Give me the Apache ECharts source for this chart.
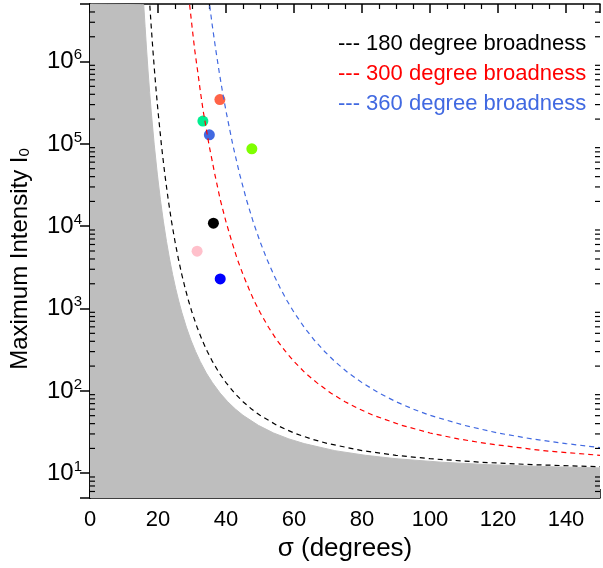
<!DOCTYPE html>
<html>
<head>
<meta charset="utf-8">
<script src="https://cdn.jsdelivr.net/npm/echarts@6/dist/echarts.min.js"></script>
<style>
html,body{margin:0;padding:0;background:#fff;}
#chart{width:603px;height:568px;}
</style>
</head>
<body>
<div id="chart"></div>
<script>
// ---- data ----
const greySigma = [0, 15.8, 16.2, 16.65, 17.1, 17.55, 18, 18.9, 19.8, 20.7, 21.6, 22.5, 23.4, 24.3, 25.2, 26.1, 27, 28.35, 29.7, 31.05, 32.4, 34.2, 36, 38.25, 40.5, 42.75, 45, 49.5, 54, 58.5, 63, 72, 81, 90, 103.5, 117, 135, 150];
const greyI     = [5e6, 4.9e6, 2.68e6, 1.38e6, 7.46e5, 4.22e5, 2.5e5, 9.74e4, 4.3e4, 2.11e4, 1.13e4, 6520, 4000, 2590, 1753, 1234, 900, 592, 412, 301, 228, 165, 126, 94.1, 73.9, 60.2, 50.5, 38.2, 30.8, 26.1, 22.9, 18.8, 16.5, 15.0, 13.6, 12.7, 12.0, 11.6];

const blackSigma = [17.6, 18, 18.5, 19, 19.5, 20, 21, 22, 23, 24, 25, 26, 27, 28, 29, 30, 31.5, 33, 34.5, 36, 38, 40, 42.5, 45, 47.5, 50, 55, 60, 65, 70, 80, 90, 100, 115, 130, 150];
const blackI     = [4.78e6, 2.68e6, 1.38e6, 7.46e5, 4.22e5, 2.5e5, 9.74e4, 4.3e4, 2.11e4, 1.13e4, 6520, 4000, 2590, 1753, 1234, 900, 592, 412, 301, 228, 165, 126, 94.1, 73.9, 60.2, 50.5, 38.2, 30.8, 26.1, 22.9, 18.8, 16.5, 15.0, 13.6, 12.7, 12.0];

const redSigma = [29.3, 30, 30.8, 31.7, 32.5, 33.3, 35, 36.7, 38.3, 40, 41.7, 43.3, 45, 46.7, 48.3, 50, 52.5, 55, 57.5, 60, 63.3, 66.7, 70.8, 75, 79.2, 83.3, 91.7, 100, 108.3, 116.7, 133.3, 150];
const redI     = [4.9e6, 2.68e6, 1.38e6, 7.46e5, 4.22e5, 2.5e5, 9.74e4, 4.3e4, 2.11e4, 1.13e4, 6520, 4000, 2590, 1753, 1234, 900, 592, 412, 301, 228, 165, 126, 94.1, 73.9, 60.2, 50.5, 38.2, 30.8, 26.1, 22.9, 18.8, 16.5];

const blueSigma = [35.2, 36, 37, 38, 39, 40, 42, 44, 46, 48, 50, 52, 54, 56, 58, 60, 63, 66, 69, 72, 76, 80, 85, 90, 95, 100, 110, 120, 130, 140, 150];
const blueI     = [4.78e6, 2.68e6, 1.38e6, 7.46e5, 4.22e5, 2.5e5, 9.74e4, 4.3e4, 2.11e4, 1.13e4, 6520, 4000, 2590, 1753, 1234, 900, 592, 412, 301, 228, 165, 126, 94.1, 73.9, 60.2, 50.5, 38.2, 30.8, 26.1, 22.9, 20.5];

const ptSigma  = [38.2, 33.2, 35.1, 47.6, 36.3, 31.5, 38.3];
const ptI      = [3.45e5, 1.89e5, 1.29e5, 8.7e4, 1.09e4, 4970, 2290];
const ptColors = ['#FF6347', '#00EE90', '#4169E1', '#7FFF00', '#000000', '#FFC0CB', '#0000FF'];

const legendLabels = ['--- 180 degree broadness', '--- 300 degree broadness', '--- 360 degree broadness'];
const legendColors = ['#000000', '#FF0000', '#4169E1'];

const xTicks = [0, 20, 40, 60, 80, 100, 120, 140];
const yDecades = [1, 2, 3, 4, 5, 6];
// -------------------------------------

const zip = (a, b) => a.map((v, i) => [v, b[i]]);

const yMin = 5, yMax = 5e6;
const minorY = [];
for (let e = 0; e <= 6; e++) for (let m = 2; m <= 9; m++) { const v = m * Math.pow(10, e); if (v > yMin && v < yMax) minorY.push(v); }

const FONT = 'Liberation Sans, Arial, Helvetica, sans-serif';
const chart = echarts.init(document.getElementById('chart'));

function isDecade(v) { const l = Math.log10(v); return Math.abs(l - Math.round(l)) < 1e-6; }

const commonX = {
  type: 'value', min: 0, max: 150, interval: 20,
  axisLine: { show: true, lineStyle: { color: '#000', width: 1.5 } },
  axisTick: { show: true, inside: true, length: 9, lineStyle: { color: '#000', width: 1.5 } },
  minorTick: { show: true, splitNumber: 4, length: 5, lineStyle: { color: '#000', width: 1.2 } },
  splitLine: { show: false }
};
const commonY = {
  type: 'log', min: yMin, max: yMax, logBase: 10,
  axisLine: { show: true, lineStyle: { color: '#000', width: 1.5 } },
  axisTick: { show: true, inside: true, length: 10, lineStyle: { color: '#000', width: 1.5 } },
  minorTick: { show: false },
  splitLine: { show: false }
};

const dashed = (color) => ({ color: color, width: 1.2, type: [5, 4] });

chart.setOption({
  animation: false,
  backgroundColor: '#fff',
  grid: { left: 90, top: 4, width: 516, height: 494, containLabel: false },
  xAxis: [
    Object.assign({}, commonX, {
      position: 'bottom',
      name: 'σ (degrees)', nameLocation: 'middle', nameGap: 38,
      nameTextStyle: { fontFamily: FONT, fontSize: 26, color: '#000' },
      axisLabel: { show: true, margin: 11, fontFamily: FONT, fontSize: 22, color: '#000',
        formatter: v => (xTicks.indexOf(v) >= 0 ? String(v) : '') }
    }),
    Object.assign({}, commonX, { position: 'top', axisLabel: { show: false } })
  ],
  yAxis: [
    Object.assign({}, commonY, {
      position: 'left',
      name: '{a|Maximum Intensity I}{s|0}', nameLocation: 'middle', nameGap: 58, nameRotate: 90,
      nameTextStyle: { fontFamily: FONT, color: '#000', padding: [0, 16, 0, 0],
        rich: { a: { fontFamily: FONT, fontSize: 24, color: '#000' },
                s: { fontFamily: FONT, fontSize: 15, color: '#000', padding: [9, 0, 0, 0] } } },
      axisLabel: {
        show: true, margin: 8, showMinLabel: false, showMaxLabel: false,
        formatter: v => { if (!isDecade(v)) return ''; const e = Math.round(Math.log10(v)); return yDecades.indexOf(e) >= 0 ? '{b|10}{s|' + e + '}' : ''; },
        rich: { b: { fontFamily: FONT, fontSize: 24, color: '#000' },
                s: { fontFamily: FONT, fontSize: 15, color: '#000', padding: [0, 0, 13, 0] } }
      }
    }),
    Object.assign({}, commonY, { position: 'right', axisLabel: { show: false } })
  ],
  graphic: legendLabels.map((t, i) => ({
    type: 'text', left: 338, top: 33 + i * 30, z: 100,
    style: { text: t, fill: legendColors[i], font: '22px ' + FONT }
  })),
  series: [
    {
      type: 'line', name: 'grey', data: zip(greySigma, greyI), showSymbol: false, symbol: 'none',
      lineStyle: { color: '#bebebe', width: 1 },
      areaStyle: { color: '#bebebe', opacity: 1, origin: 'start' }, z: 1
    },
    {
      type: 'scatter', name: 'points', symbol: 'circle', symbolSize: 11, z: 3,
      data: ptSigma.map((s, i) => ({ value: [s, ptI[i]], itemStyle: { color: ptColors[i], opacity: 1 } }))
    },
    { type: 'line', name: '180 degree broadness', data: zip(blackSigma, blackI), symbol: 'none', lineStyle: dashed('#000000'), z: 4 },
    { type: 'line', name: '300 degree broadness', data: zip(redSigma, redI), symbol: 'none', lineStyle: dashed('#FF0000'), z: 4 },
    { type: 'line', name: '360 degree broadness', data: zip(blueSigma, blueI), symbol: 'none', lineStyle: dashed('#4169E1'), z: 4 },
    {
      type: 'custom', name: 'yminor', silent: true, z: 10, clip: false,
      data: minorY.map(v => [0, v]),
      renderItem: (params, api) => {
        const v = api.value(1);
        const pL = api.coord([0, v]);
        const pR = api.coord([150, v]);
        const st = { stroke: '#000', lineWidth: 1.2 };
        return { type: 'group', children: [
          { type: 'line', shape: { x1: pL[0], y1: pL[1], x2: pL[0] + 5, y2: pL[1] }, style: st },
          { type: 'line', shape: { x1: pR[0], y1: pR[1], x2: pR[0] - 5, y2: pR[1] }, style: st }
        ] };
      }
    }
  ]
});
</script>
</body>
</html>
